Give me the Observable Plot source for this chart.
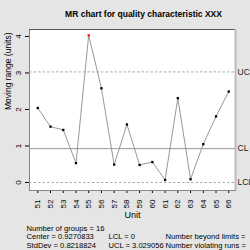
<!DOCTYPE html>
<html><head><meta charset="utf-8">
<script src="https://cdn.jsdelivr.net/npm/d3@7"></script>
<script src="https://cdn.jsdelivr.net/npm/@observablehq/plot@0.6"></script>
<style>body{margin:0;background:#e5e5e5}</style>
</head><body><div id="c"></div>
<script>
const units = [51,52,53,54,55,56,57,58,59,60,61,62,63,64,65,66];
const mr = [2.04,1.53,1.44,0.53,4.03,2.58,0.49,1.59,0.48,0.56,0.07,2.31,0.09,1.05,1.81,2.49];
const center = 0.9270833;
const lcl = 0;
const ucl = 3.029056;
const yTicks = [0,1,2,3,4];
const limitLabels = ["UCL","CL","LCL"];
const statsLeft = ["Number of groups = 16","Center = 0.9270833","StdDev = 0.8218824"];
const statsMid = ["LCL = 0","UCL = 3.029056"];
const statsRight = ["Number beyond limits =","Number violating runs ="];
const title = "MR chart for quality characteristic XXX";

const data = units.map((u,i)=>({u, v: mr[i], out: mr[i] > ucl || mr[i] < lcl}));
const xd = [50.35, 66.53], yd = [-0.219, 4.19];
const font = "Liberation Sans, Arial, sans-serif";
const limits = [{v:ucl,l:limitLabels[0]},{v:center,l:limitLabels[1]},{v:lcl,l:limitLabels[2]}];

const lineGap = 8.5, fs = 7.6;
const statMarks = [
  ...statsLeft.map((s,i)=>Plot.text([s], {frameAnchor: "bottom-left", dx: -3, dy: 40 + i*lineGap, textAnchor: "start", fontSize: fs})),
  ...statsMid.map((s,i)=>Plot.text([s], {frameAnchor: "bottom-left", dx: 79, dy: 40 + (i+1)*lineGap, textAnchor: "start", fontSize: fs})),
  ...statsRight.map((s,i)=>Plot.text([s], {frameAnchor: "bottom-left", dx: 136, dy: 40 + (i+1)*lineGap, textAnchor: "start", fontSize: fs}))
];

const chart = Plot.plot({
  width: 250, height: 250,
  marginLeft: 29, marginRight: 15, marginTop: 29, marginBottom: 60,
  style: {background: "#e5e5e5", fontFamily: font, fontSize: "8px", color: "#000"},
  x: {domain: xd, ticks: units, tickFormat: d=>String(d), tickSize: 3, tickRotate: -90, label: null},
  y: {domain: yd, ticks: yTicks, tickFormat: d=>String(d), tickSize: 4, tickRotate: -90, label: null},
  marks: [
    Plot.frame({fill: "white", stroke: "#888"}),
    Plot.ruleY([yd[1]], {stroke: "#555", strokeWidth: 1.2}),
    Plot.ruleX([xd[1]], {stroke: "#bbb", strokeWidth: 2}),
    Plot.ruleY([ucl, lcl], {stroke: "#aaa", strokeDasharray: "2.5,2"}),
    Plot.ruleY([center], {stroke: "#999"}),
    Plot.line(data, {x: "u", y: "v", stroke: "#999", strokeWidth: 1}),
    Plot.dot(data, {x: "u", y: "v", symbol: "square", r: 1.3, fill: d => d.out ? "red" : "black", stroke: "none"}),
    Plot.text(limits, {x: () => xd[1], y: "v", text: "l", textAnchor: "start", dx: 2, fontSize: 8.5, fill: "#222"}),
    Plot.text([title], {frameAnchor: "top", dy: -19, dx: 11, fontWeight: "bold", fontSize: 8.5}),
    Plot.text(["Moving range (units)"], {frameAnchor: "left", dx: -21, rotate: -90, fontSize: 8.5}),
    Plot.text(["Unit"], {frameAnchor: "bottom", dy: 27, fontSize: 9}),
    ...statMarks
  ]
});
document.getElementById("c").appendChild(chart);
</script></body></html>
